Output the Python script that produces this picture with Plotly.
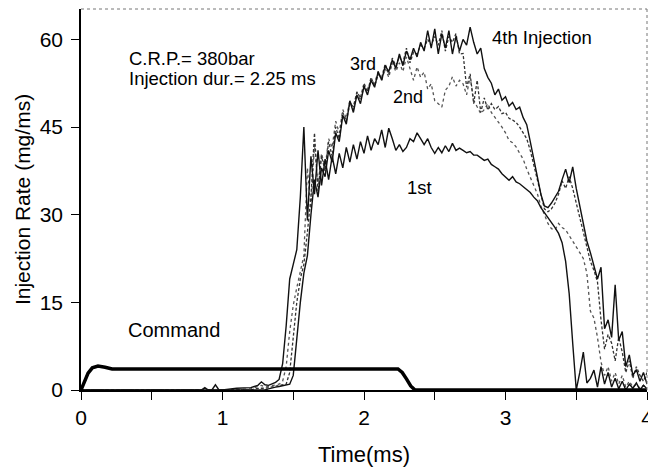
import plotly.graph_objects as go

# ---------------- data ----------------
time_early = [0.0, 0.5, 0.85, 0.875, 0.9, 0.925, 0.95, 0.975, 1.0, 1.1, 1.2, 1.225, 1.25, 1.275]
time_main = [
    1.300, 1.325, 1.350, 1.375, 1.400, 1.425, 1.450, 1.475,
    1.500, 1.525, 1.550, 1.575, 1.600, 1.625, 1.650, 1.675,
    1.700, 1.725, 1.750, 1.775, 1.800, 1.825, 1.850, 1.875,
    1.900, 1.925, 1.950, 1.975, 2.000, 2.025, 2.050, 2.075,
    2.100, 2.125, 2.150, 2.175, 2.200, 2.225, 2.250, 2.275,
    2.300, 2.325, 2.350, 2.375, 2.400, 2.425, 2.450, 2.475,
    2.500, 2.525, 2.550, 2.575, 2.600, 2.625, 2.650, 2.675,
    2.700, 2.725, 2.750, 2.775, 2.800, 2.825, 2.850, 2.875,
    2.900, 2.925, 2.950, 2.975, 3.000, 3.025, 3.050, 3.075,
    3.100, 3.125, 3.150, 3.175, 3.200, 3.225, 3.250, 3.275,
    3.300, 3.325, 3.350, 3.375, 3.400, 3.425, 3.450, 3.475,
    3.500, 3.525, 3.550, 3.575, 3.600, 3.625, 3.650, 3.675,
    3.700, 3.725, 3.750, 3.775, 3.800, 3.825, 3.850, 3.875,
    3.900, 3.925, 3.950, 3.975, 4.000,
]
time_ms = time_early + time_main

inj1_early = [0, 0, 0, 0.4, 0, 0, 0.9, 0, 0, 0.3, 0.4, 0.6, 0.8, 1.4]
inj1_main = [
    0.9, 0.8, 1.0, 1.3, 1.8, 4.5, 11.0, 19.0,
    21.5, 24.0, 33.0, 45.0, 29.0, 40.0, 33.5, 41.0,
    35.0, 39.5, 36.0, 40.0, 37.0, 40.5, 38.0, 41.5,
    39.0, 42.0, 39.5, 42.5, 40.5, 43.5, 41.0, 43.0,
    42.0, 44.5, 41.5, 44.8, 43.0, 41.0, 42.0, 40.8,
    41.5, 43.0, 42.5, 44.0, 43.0, 42.0, 43.0, 41.5,
    40.5, 41.5, 40.6, 41.8, 40.8, 42.2, 41.0, 41.4,
    41.0, 40.6, 40.8, 40.2, 40.2, 39.8, 39.3, 39.5,
    38.6, 38.2, 37.8, 37.0, 36.4, 35.9, 36.5, 35.6,
    35.3, 34.8, 34.4, 33.8, 33.0, 32.4, 31.2, 30.4,
    29.4, 28.6, 27.8, 26.8, 25.2, 22.0, 16.5, 8.0,
    0.0, 3.0, 6.5, 1.2, 2.0, 3.4, 0.5, 4.0,
    1.0, 3.0, 0.5, 2.0, 0.2, 1.5, 0.0, 1.0,
    0.3, 1.2, 0.0, 0.8, 0.2,
]

inj2_early = [0, 0, 0, 0, 0, 0, 0, 0, 0, 0, 0.2, 0.4, 0.6, 0.8]
inj2_main = [
    0.5, 0.6, 0.7, 0.8, 1.0, 1.5, 4.0, 10.0,
    14.5, 17.5, 20.0, 23.0, 38.0, 31.0, 42.0, 35.0,
    40.5, 38.0, 43.0, 41.5, 46.0, 44.0, 48.0, 46.5,
    49.5, 48.0, 51.0, 49.5, 52.0, 51.5, 53.0, 52.5,
    54.5, 53.0, 55.0, 53.5, 56.0, 54.5, 56.0, 54.5,
    57.0, 55.0, 53.0, 55.3, 53.5, 54.4, 51.5, 52.4,
    49.5, 49.0, 48.4, 51.3, 52.0, 53.6, 52.0, 53.0,
    52.4, 50.5, 53.6, 49.6, 48.5, 47.3, 48.0, 49.0,
    47.5, 46.7, 46.0, 45.0, 44.0, 42.7, 42.3, 41.6,
    40.5, 39.5, 37.8, 36.5, 35.0, 33.6, 31.5, 30.0,
    28.5, 27.6, 27.4, 28.5, 27.8, 27.4, 26.5, 25.5,
    24.5, 23.5, 22.5, 20.0, 13.5, 12.3, 9.0, 4.8,
    2.5, 4.0, 1.5, 3.0, 1.0, 2.5, 0.5, 1.5,
    0.5, 1.0, 0.3, 0.8, 0.2,
]

inj3_early = [0, 0, 0, 0, 0, 0, 0, 0, 0, 0, 0, 0.2, 0.3, 0.3]
inj3_main = [
    0.3, 0.4, 0.5, 0.6, 0.7, 0.8, 1.0, 3.0,
    9.0, 15.0, 19.0, 21.5, 27.0, 33.0, 44.0, 34.0,
    40.0, 37.5, 42.5, 40.0, 45.0, 43.0, 47.5, 46.0,
    49.0, 48.5, 51.0, 50.0, 52.5, 51.0, 53.5, 52.0,
    54.0, 53.5, 55.8, 54.0, 56.8, 55.5, 57.0, 56.0,
    58.5, 56.0, 57.8, 57.5, 59.0, 58.5, 60.0, 59.0,
    60.5, 59.0, 61.5, 58.0, 60.5, 59.5, 61.0, 57.5,
    57.6, 51.8, 54.1, 49.0, 53.0, 47.5, 50.0, 47.9,
    49.0, 48.0, 48.5, 47.3, 47.5, 46.5, 46.2, 45.8,
    45.0, 44.0, 43.0, 41.0, 38.5, 35.5, 33.0, 31.0,
    30.5, 31.0, 32.0, 33.5, 35.8, 34.5, 36.5, 34.5,
    32.0, 29.5, 27.0, 24.5, 22.0, 20.5, 18.5, 12.0,
    7.0, 9.5, 8.0, 5.0, 9.0, 6.5, 3.0, 5.0,
    2.0, 4.0, 2.5, 1.5, 3.0,
]

inj4_early = [0, 0, 0, 0, 0, 0, 0, 0, 0, 0, 0, 0, 0, 0]
inj4_main = [
    0.0, 0.2, 0.4, 0.5, 0.6, 0.7, 0.8, 1.0,
    2.5, 9.0, 15.0, 20.0, 23.0, 30.0, 36.0, 33.0,
    38.0, 36.5, 41.0, 39.0, 44.0, 42.5, 47.0, 45.5,
    49.5, 47.5, 50.5, 49.0, 52.0, 50.5, 53.0, 51.8,
    54.5, 53.0, 55.5, 54.5, 56.5, 55.0, 57.5, 55.5,
    58.0, 56.5, 58.5, 57.0, 59.5, 58.0, 61.5, 58.5,
    61.8, 57.5, 61.0, 58.5, 61.5, 57.5, 60.5, 58.0,
    60.0, 59.0, 62.1, 59.5, 57.5, 58.5, 55.0, 53.5,
    52.5, 50.5, 51.5, 49.6, 50.2, 48.6, 49.2, 48.0,
    48.4, 46.6, 45.4, 42.5, 39.5, 36.5, 33.5, 31.5,
    31.2, 32.0, 33.0, 34.0, 36.0, 37.8, 35.5, 38.2,
    34.5, 31.5, 28.5, 25.5, 23.5, 21.0, 19.0, 21.0,
    10.5, 12.0, 9.0, 18.0, 8.5, 10.0, 4.0, 6.0,
    2.5, 3.5, 1.5, 3.0, 1.0,
]

inj1 = inj1_early + inj1_main
inj2 = inj2_early + inj2_main
inj3 = inj3_early + inj3_main
inj4 = inj4_early + inj4_main

cmd_t = [0, 0.02, 0.05, 0.08, 0.12, 0.17, 0.22, 2.24, 2.27, 2.30, 2.33, 2.36, 4.0]
cmd_v = [0, 1.3, 2.9, 3.8, 4.1, 3.9, 3.6, 3.6, 3.0, 1.9, 0.7, 0.0, 0.0]

x_tickvals = [0, 0.5, 1, 1.5, 2, 2.5, 3, 3.5, 4]
x_ticktext = ["0", "", "1", "", "2", "", "3", "", "4"]
y_tickvals = [0, 15, 30, 45, 60]

FONT = "Liberation Sans, Arial, sans-serif"

fig = go.Figure()
fig.add_trace(go.Scatter(x=time_ms, y=inj2, mode="lines",
                         line=dict(color="#555555", width=1.3, dash="dot"), name="2nd"))
fig.add_trace(go.Scatter(x=time_ms, y=inj3, mode="lines",
                         line=dict(color="#333333", width=1.3, dash="3px,2px"), name="3rd"))
fig.add_trace(go.Scatter(x=time_ms, y=inj1, mode="lines",
                         line=dict(color="#111111", width=1.4), name="1st"))
fig.add_trace(go.Scatter(x=time_ms, y=inj4, mode="lines",
                         line=dict(color="#111111", width=1.4), name="4th"))
fig.add_trace(go.Scatter(x=cmd_t, y=cmd_v, mode="lines",
                         line=dict(color="#000000", width=3.5), name="Command"))

ann = [
    ("C.R.P.= 380bar", 0.323, 56.7, "left", 18.5),
    ("Injection dur.= 2.25 ms", 0.323, 53.3, "left", 18.5),
    ("3rd", 1.993, 55.8, "center", 18),
    ("2nd", 2.311, 50.2, "center", 18),
    ("4th Injection", 3.258, 60.3, "center", 18.5),
    ("1st", 2.389, 34.6, "center", 18.5),
    ("Command", 0.657, 10.2, "center", 20),
]
for text, ax, ay, anc, fs in ann:
    fig.add_annotation(x=ax, y=ay, xref="x", yref="y", text=text, showarrow=False,
                       xanchor=anc, yanchor="middle",
                       font=dict(family=FONT, size=fs, color="black"))

fig.add_shape(type="line", xref="paper", yref="paper", x0=0, x1=1, y0=1, y1=1,
              line=dict(color="#777777", width=1, dash="dot"))
fig.add_shape(type="line", xref="paper", yref="paper", x0=1, x1=1, y0=0, y1=1,
              line=dict(color="#777777", width=1, dash="dot"))

fig.update_layout(
    width=648, height=472,
    margin=dict(l=81, r=1, t=9, b=82, autoexpand=False),
    paper_bgcolor="white", plot_bgcolor="white",
    showlegend=False,
    font=dict(family=FONT, color="black"),
    xaxis=dict(range=[0, 4], tickmode="array", tickvals=x_tickvals, ticktext=x_ticktext,
               ticks="outside", ticklen=8, tickwidth=1.2, tickcolor="black",
               showline=True, linecolor="black", linewidth=1.5, showgrid=False, zeroline=False,
               ticklabeloverflow="allow", automargin=False,
               tickfont=dict(family=FONT, size=21, color="black"),
               title=dict(text="Time(ms)", font=dict(family=FONT, size=22, color="black"), standoff=19)),
    yaxis=dict(range=[0, 65.2], tickmode="array", tickvals=y_tickvals,
               ticks="outside", ticklen=8, tickwidth=1.2, tickcolor="black",
               showline=True, linecolor="black", linewidth=1.5, showgrid=False, zeroline=False,
               ticklabelstandoff=4, automargin=False,
               tickfont=dict(family=FONT, size=21, color="black"),
               title=dict(text="Injection Rate (mg/ms)", font=dict(family=FONT, size=21, color="black"), standoff=3)),
)

fig.write_html("out.html")
